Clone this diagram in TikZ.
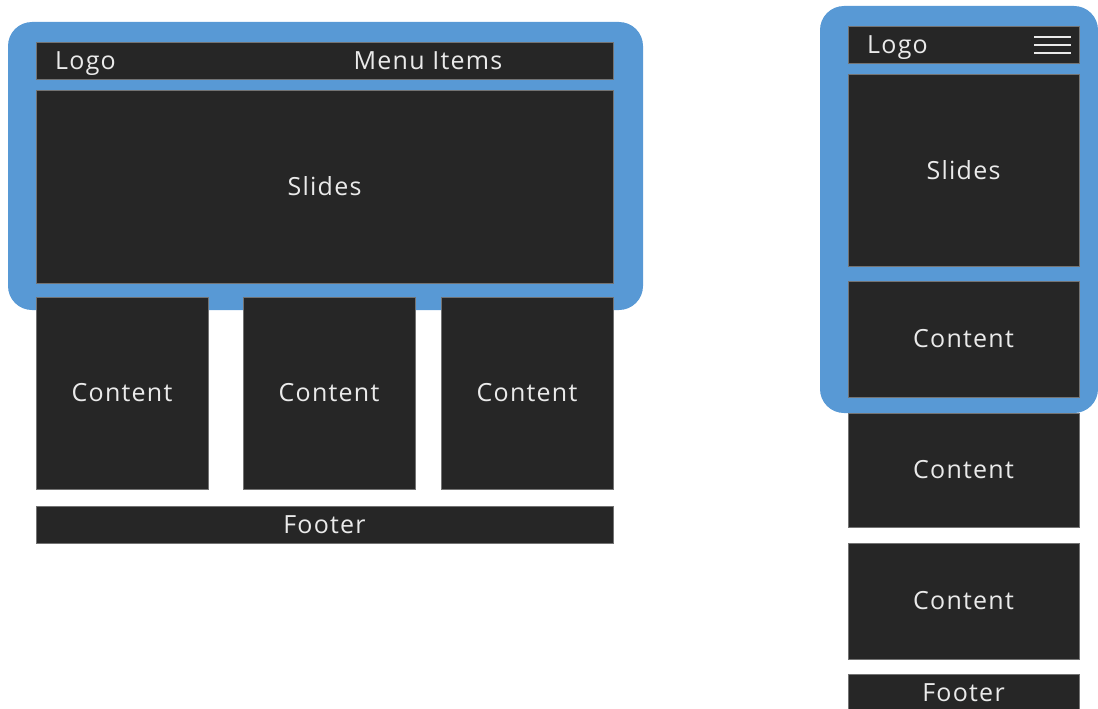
\documentclass[tikz,border=0pt]{standalone}
\usepackage{fontspec}
\setmainfont{Open Sans}[LetterSpace=5]
\definecolor{rahmenblau}{HTML}{5899D5}
\definecolor{boxgrau}{HTML}{262626}
\definecolor{schrift}{HTML}{EAEAEA}
\tikzset{
  kasten/.style={fill=boxgrau, draw=black!55, line width=0.5pt, inner sep=0pt,
    text=schrift, font=\fontsize{25}{29}\selectfont},
  beschriftung/.style={text=schrift, inner sep=0pt, font=\fontsize{25}{29}\selectfont},
  rahmen/.style={fill=rahmenblau, rounded corners=24pt}
}
\begin{document}
\begin{tikzpicture}[x=1pt,y=-1pt]
\useasboundingbox (0,0) rectangle (1098,709);
%Rahmen
\fill[rahmen] (8,22) rectangle (643,310);
\fill[rahmen] (820,6) rectangle (1098,413);
%Desktop
\node[kasten, minimum width=577, minimum height=37] (kopf) at (324.5,60.5) {};
\node[beschriftung, anchor=base west] (logo) at (55,70) {Logo};
\node[beschriftung, anchor=base] (menu) at (428,70) {Menu Items};
\node[kasten, minimum width=577, minimum height=193] (slides) at (324.5,186.5) {Slides};
\node[kasten, minimum width=172, minimum height=192] (inhaltA) at (122,393) {Content};
\node[kasten, minimum width=172, minimum height=192] (inhaltB) at (329,393) {Content};
\node[kasten, minimum width=172, minimum height=192] (inhaltC) at (527,393) {Content};
\node[kasten, minimum width=577, minimum height=37] (fuss) at (324.5,524.5) {Footer};
%Mobil
\node[kasten, minimum width=231, minimum height=37] (mkopf) at (963.5,44.5) {};
\node[beschriftung, anchor=base west] (mlogo) at (867,54) {Logo};
\node[kasten, minimum width=231, minimum height=192] (mslides) at (963.5,170) {Slides};
\node[kasten, minimum width=231, minimum height=116] (minhaltA) at (963.5,339) {Content};
\node[kasten, minimum width=231, minimum height=114] (minhaltB) at (963.5,470) {Content};
\node[kasten, minimum width=231, minimum height=116] (minhaltC) at (963.5,601) {Content};
\node[kasten, minimum width=231, minimum height=38] (mfuss) at (963.5,693) {Footer};
%Menuesymbol
\draw[schrift, line width=1.8pt] (1034,37) -- (1071,37);
\draw[schrift, line width=1.8pt] (1034,45) -- (1071,45);
\draw[schrift, line width=1.8pt] (1034,53) -- (1071,53);
\end{tikzpicture}
\end{document}
